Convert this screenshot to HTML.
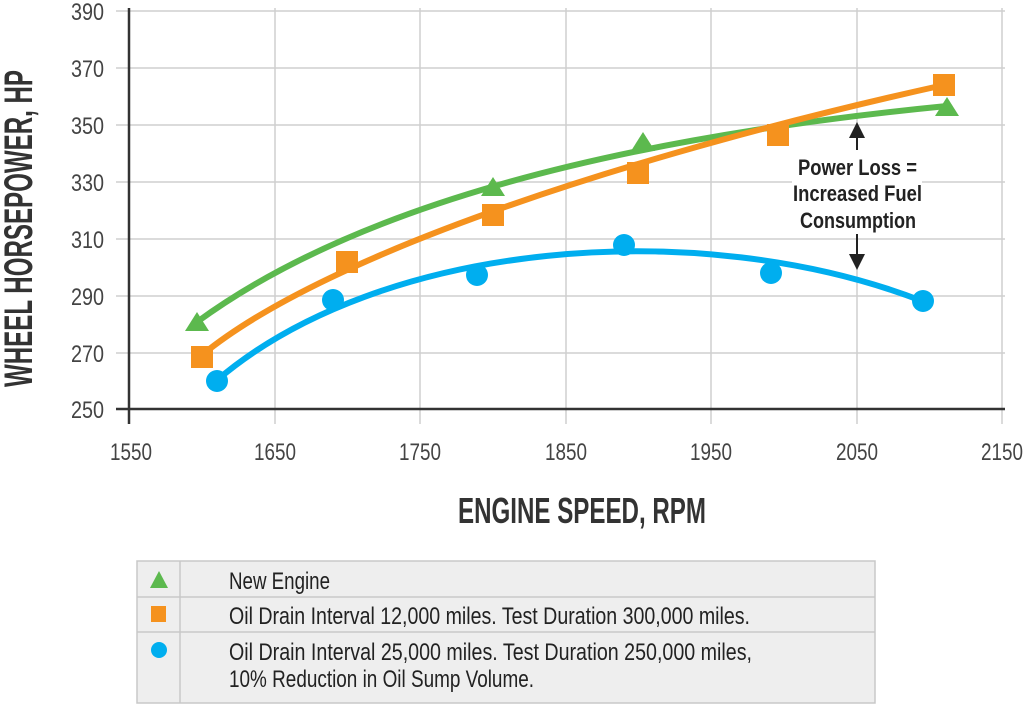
<!DOCTYPE html>
<html><head><style>
html,body{margin:0;padding:0;background:#fff;}
svg{display:block;}
text{font-family:"Liberation Sans",sans-serif;}
</style></head><body>
<svg width="1024" height="705" viewBox="0 0 1024 705" xmlns="http://www.w3.org/2000/svg">
<g stroke="#cfcfcf" stroke-width="1.5">
<line x1="116" y1="11" x2="1005" y2="11"/>
<line x1="116" y1="68" x2="1005" y2="68"/>
<line x1="116" y1="125" x2="1005" y2="125"/>
<line x1="116" y1="182" x2="1005" y2="182"/>
<line x1="116" y1="239" x2="1005" y2="239"/>
<line x1="116" y1="296" x2="1005" y2="296"/>
<line x1="116" y1="353" x2="1005" y2="353"/>
<line x1="275" y1="8" x2="275" y2="424"/>
<line x1="420" y1="8" x2="420" y2="424"/>
<line x1="566" y1="8" x2="566" y2="424"/>
<line x1="711" y1="8" x2="711" y2="424"/>
<line x1="857" y1="8" x2="857" y2="424"/>
<line x1="1002" y1="8" x2="1002" y2="424"/>
</g>
<line x1="129" y1="8" x2="129" y2="424" stroke="#333" stroke-width="2.5"/>
<line x1="116" y1="409" x2="1005" y2="409" stroke="#333" stroke-width="2.5"/>
<g font-size="24" fill="#444" text-anchor="end">
<text x="104" y="20" textLength="33" lengthAdjust="spacingAndGlyphs">390</text>
<text x="104" y="77" textLength="33" lengthAdjust="spacingAndGlyphs">370</text>
<text x="104" y="134" textLength="33" lengthAdjust="spacingAndGlyphs">350</text>
<text x="104" y="191" textLength="33" lengthAdjust="spacingAndGlyphs">330</text>
<text x="104" y="248" textLength="33" lengthAdjust="spacingAndGlyphs">310</text>
<text x="104" y="305" textLength="33" lengthAdjust="spacingAndGlyphs">290</text>
<text x="104" y="362" textLength="33" lengthAdjust="spacingAndGlyphs">270</text>
<text x="104" y="418" textLength="33" lengthAdjust="spacingAndGlyphs">250</text>
</g>
<g font-size="24" fill="#444">
<text x="110" y="460" textLength="42" lengthAdjust="spacingAndGlyphs">1550</text>
<text x="254" y="460" textLength="42" lengthAdjust="spacingAndGlyphs">1650</text>
<text x="399" y="460" textLength="42" lengthAdjust="spacingAndGlyphs">1750</text>
<text x="545" y="460" textLength="42" lengthAdjust="spacingAndGlyphs">1850</text>
<text x="690" y="460" textLength="42" lengthAdjust="spacingAndGlyphs">1950</text>
<text x="836" y="460" textLength="42" lengthAdjust="spacingAndGlyphs">2050</text>
<text x="981" y="460" textLength="42" lengthAdjust="spacingAndGlyphs">2150</text>
</g>
<text x="458" y="523" font-size="36" font-weight="bold" fill="#333" textLength="248" lengthAdjust="spacingAndGlyphs">ENGINE SPEED, RPM</text>
<text transform="translate(32,387) rotate(-90)" font-size="40" font-weight="bold" fill="#333" textLength="317" lengthAdjust="spacingAndGlyphs">WHEEL HORSEPOWER, HP</text>
<g fill="none" stroke-width="6" stroke-linecap="round" stroke-linejoin="round">
<path d="M197,322 C350,210 600,140 947,106" stroke="#5cb94e"/>
<path d="M202,355 C330,250 650,150 944,85" stroke="#f5921e"/>
<path d="M216,381 C380,240 700,215 922,301" stroke="#00aeef"/>
</g>
<g fill="#5cb94e">
<polygon points="197,312 185,331 209,331"/><polygon points="493,177 481,196 505,196"/>
<polygon points="643,132 631,151 655,151"/><polygon points="947,97 935,116 959,116"/>
</g>
<g fill="#f5921e">
<rect x="191" y="346" width="22" height="22"/><rect x="336" y="251" width="22" height="22"/>
<rect x="482" y="204" width="22" height="22"/><rect x="627" y="162" width="22" height="22"/>
<rect x="767" y="124" width="22" height="22"/><rect x="933" y="74" width="22" height="22"/>
</g>
<g fill="#00aeef">
<circle cx="217" cy="381" r="11"/><circle cx="333" cy="300" r="11"/><circle cx="477" cy="275" r="11"/>
<circle cx="624" cy="245" r="11"/><circle cx="771" cy="273" r="11"/><circle cx="923" cy="301" r="11"/>
</g>
<line x1="857" y1="130" x2="857" y2="262" stroke="#222" stroke-width="2"/>
<polygon points="857,122 849,138 865,138" fill="#222"/>
<polygon points="857,270 849,254 865,254" fill="#222"/>
<rect x="792" y="150" width="130" height="84" fill="#fff"/>
<g font-size="22" font-weight="bold" fill="#222">
<text x="798" y="175" textLength="119" lengthAdjust="spacingAndGlyphs">Power Loss =</text>
<text x="793" y="201" textLength="129" lengthAdjust="spacingAndGlyphs">Increased Fuel</text>
<text x="800" y="228" textLength="116" lengthAdjust="spacingAndGlyphs">Consumption</text>
</g>
<rect x="137" y="561" width="738" height="142" fill="#eeeeee" stroke="#c8c8c8" stroke-width="1.5"/>
<line x1="137" y1="597" x2="875" y2="597" stroke="#c8c8c8" stroke-width="1.5"/>
<line x1="137" y1="632" x2="875" y2="632" stroke="#c8c8c8" stroke-width="1.5"/>
<line x1="180" y1="561" x2="180" y2="703" stroke="#c8c8c8" stroke-width="1.5"/>
<polygon points="159,571 150,588 168,588" fill="#5cb94e"/>
<rect x="151" y="606" width="15" height="16" fill="#f5921e"/>
<circle cx="159" cy="650" r="8" fill="#00aeef"/>
<g font-size="24" fill="#222">
<text x="229" y="589" textLength="101" lengthAdjust="spacingAndGlyphs">New Engine</text>
<text x="229" y="624" textLength="521" lengthAdjust="spacingAndGlyphs">Oil Drain Interval 12,000 miles. Test Duration 300,000 miles.</text>
<text x="229" y="660" textLength="523" lengthAdjust="spacingAndGlyphs">Oil Drain Interval 25,000 miles. Test Duration 250,000 miles,</text>
<text x="229" y="687" textLength="305" lengthAdjust="spacingAndGlyphs">10% Reduction in Oil Sump Volume.</text>
</g>
</svg>
</body></html>
